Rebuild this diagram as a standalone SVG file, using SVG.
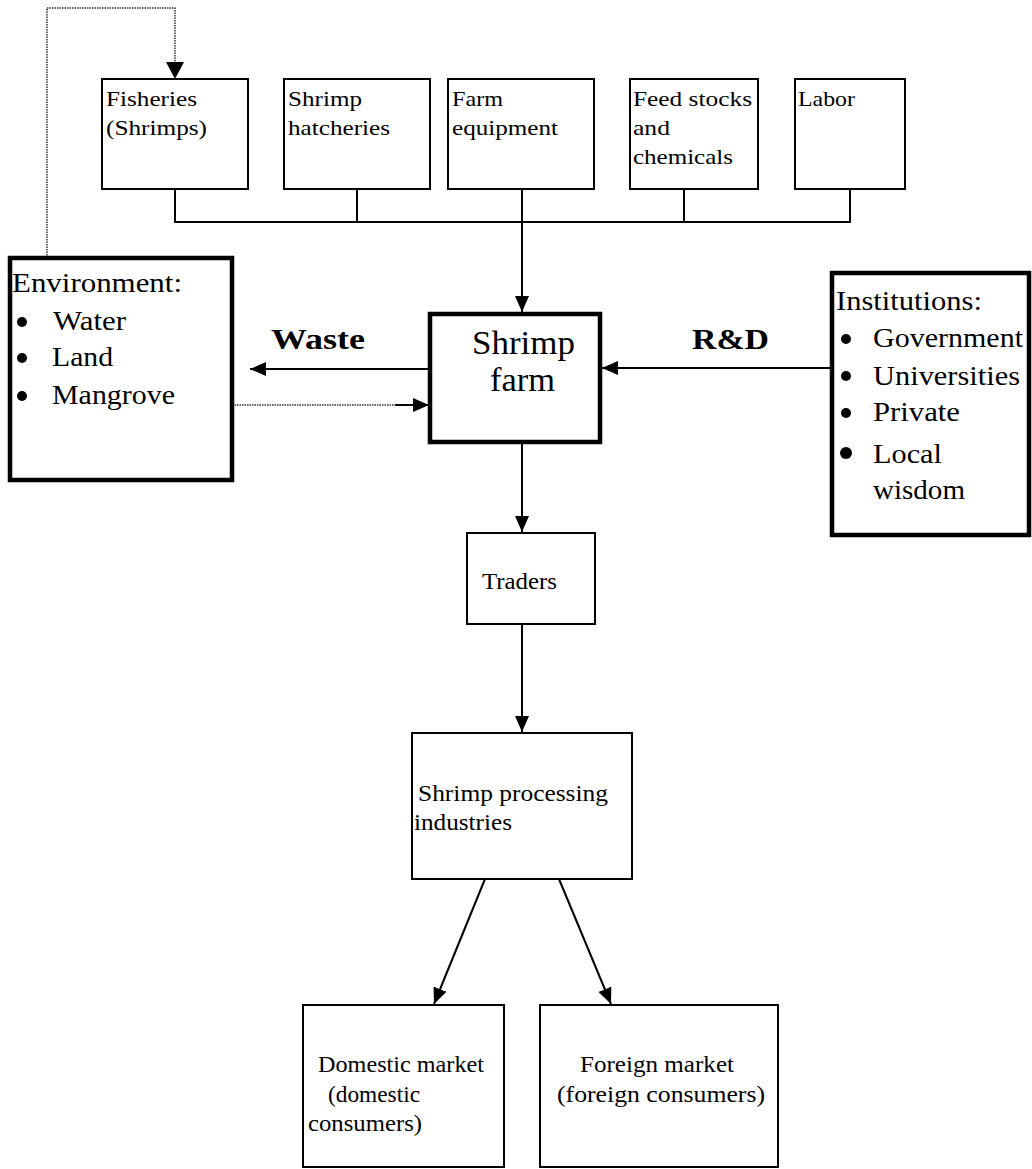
<svg xmlns="http://www.w3.org/2000/svg" width="1032" height="1169" viewBox="0 0 1032 1169" font-family="'Liberation Serif', 'DejaVu Serif', serif">
<style>
text{font-family:'Liberation Serif','DejaVu Serif',serif;fill:#000}
.box{fill:#fff;stroke:#000;stroke-width:2}
.thick{fill:#fff;stroke:#000;stroke-width:4.5}
.s{font-size:22px}
.t{font-size:23px}
.m{font-size:28px}
.l{font-size:33px}
.b{font-size:29px;font-weight:bold}
.ln{fill:none;stroke:#000;stroke-width:2}
.dot{fill:none;stroke:#333;stroke-width:1.5;stroke-dasharray:1.5 1}
</style>
<defs>
<marker id="ahs" markerWidth="16" markerHeight="14" refX="16" refY="7" orient="auto" markerUnits="userSpaceOnUse" viewBox="0 0 16 14">
<path d="M0,0 L16,7 L0,14 Z" fill="#000"/>
</marker>
</defs>
<rect width="1032" height="1169" fill="#fff"/>
<g id="connectors">
<path class="dot" d="M47,258 V8 H175 V64"/>
<path d="M166,62 L175,79 L184,62 Z" fill="#000"/>
<path class="ln" d="M175,189 V222 H850 V189 M357,189 V222 M684,189 V222"/>
<path class="ln" d="M522,189 V312" marker-end="url(#ahs)"/>
<path class="ln" d="M430,369 H250" marker-end="url(#ahs)"/>
<path class="dot" d="M232,405 H395"/>
<path class="ln" d="M395,405 H429" marker-end="url(#ahs)"/>
<path class="ln" d="M832,368 H602" marker-end="url(#ahs)"/>
<path class="ln" d="M522,442 V532" marker-end="url(#ahs)"/>
<path class="ln" d="M522,624 V732" marker-end="url(#ahs)"/>
<path class="ln" d="M485,879 L434,1004" marker-end="url(#ahs)"/>
<path class="ln" d="M559,879 L611,1004" marker-end="url(#ahs)"/>
</g>
<g id="fisheries"><rect class="box" x="102" y="79" width="146" height="110"/><text class="s" x="106" y="106" textLength="91" lengthAdjust="spacingAndGlyphs">Fisheries</text><text class="s" x="106" y="135" textLength="101" lengthAdjust="spacingAndGlyphs">(Shrimps)</text></g>
<g id="hatcheries"><rect class="box" x="284" y="79" width="146" height="110"/><text class="s" x="288" y="106" textLength="74" lengthAdjust="spacingAndGlyphs">Shrimp</text><text class="s" x="288" y="135" textLength="102" lengthAdjust="spacingAndGlyphs">hatcheries</text></g>
<g id="equipment"><rect class="box" x="448" y="79" width="146" height="110"/><text class="s" x="452" y="106" textLength="51" lengthAdjust="spacingAndGlyphs">Farm</text><text class="s" x="452" y="135" textLength="106" lengthAdjust="spacingAndGlyphs">equipment</text></g>
<g id="feed"><rect class="box" x="630" y="79" width="128" height="110"/><text class="s" x="633" y="106" textLength="119" lengthAdjust="spacingAndGlyphs">Feed stocks</text><text class="s" x="633" y="135" textLength="37" lengthAdjust="spacingAndGlyphs">and</text><text class="s" x="633" y="164" textLength="100" lengthAdjust="spacingAndGlyphs">chemicals</text></g>
<g id="labor"><rect class="box" x="795" y="79" width="110" height="110"/><text class="s" x="798" y="106" textLength="57" lengthAdjust="spacingAndGlyphs">Labor</text></g>
<g id="environment"><rect class="thick" x="10" y="258" width="222" height="222"/>
<text class="m" x="12" y="292" textLength="170" lengthAdjust="spacingAndGlyphs">Environment:</text>
<circle cx="22" cy="322" r="5"/><text class="m" x="53" y="330" textLength="73" lengthAdjust="spacingAndGlyphs">Water</text>
<circle cx="22" cy="358" r="5"/><text class="m" x="52" y="366" textLength="61" lengthAdjust="spacingAndGlyphs">Land</text>
<circle cx="22" cy="396" r="5"/><text class="m" x="52" y="404" textLength="123" lengthAdjust="spacingAndGlyphs">Mangrove</text>
</g>
<g id="waste-label"><text class="b" x="271" y="349" textLength="94" lengthAdjust="spacingAndGlyphs">Waste</text></g>
<g id="rd-label"><text class="b" x="692" y="349" textLength="77" lengthAdjust="spacingAndGlyphs">R&amp;D</text></g>
<g id="shrimpfarm"><rect class="thick" x="430" y="314" width="170" height="128"/>
<text class="l" x="472" y="354" textLength="103" lengthAdjust="spacingAndGlyphs">Shrimp</text>
<text class="l" x="490" y="391" textLength="65" lengthAdjust="spacingAndGlyphs">farm</text></g>
<g id="institutions"><rect class="thick" x="832" y="273" width="197" height="262"/>
<text class="m" x="836" y="310" textLength="146" lengthAdjust="spacingAndGlyphs">Institutions:</text>
<circle cx="846" cy="339" r="5"/><text class="m" x="873" y="347" textLength="150" lengthAdjust="spacingAndGlyphs">Government</text>
<circle cx="846" cy="376" r="5"/><text class="m" x="873" y="385" textLength="147" lengthAdjust="spacingAndGlyphs">Universities</text>
<circle cx="846" cy="413" r="5"/><text class="m" x="873" y="421" textLength="87" lengthAdjust="spacingAndGlyphs">Private</text>
<circle cx="846" cy="453" r="6"/><text class="m" x="873" y="463" textLength="69" lengthAdjust="spacingAndGlyphs">Local</text>
<text class="m" x="873" y="499" textLength="92" lengthAdjust="spacingAndGlyphs">wisdom</text></g>
<g id="traders"><rect class="box" x="467" y="533" width="128" height="91"/><text class="t" x="482" y="589" textLength="75" lengthAdjust="spacingAndGlyphs">Traders</text></g>
<g id="processing"><rect class="box" x="412" y="733" width="220" height="146"/><text class="t" x="418" y="801" textLength="190" lengthAdjust="spacingAndGlyphs">Shrimp processing</text><text class="t" x="414" y="830" textLength="98" lengthAdjust="spacingAndGlyphs">industries</text></g>
<g id="domestic"><rect class="box" x="303" y="1005" width="201" height="162"/><text class="t" x="318" y="1072" textLength="166" lengthAdjust="spacingAndGlyphs">Domestic market</text><text class="t" x="328" y="1102" textLength="92" lengthAdjust="spacingAndGlyphs">(domestic</text><text class="t" x="308" y="1131" textLength="114" lengthAdjust="spacingAndGlyphs">consumers)</text></g>
<g id="foreign"><rect class="box" x="540" y="1005" width="238" height="162"/><text class="t" x="580" y="1072" textLength="154" lengthAdjust="spacingAndGlyphs">Foreign market</text><text class="t" x="557" y="1102" textLength="208" lengthAdjust="spacingAndGlyphs">(foreign  consumers)</text></g>
</svg>
